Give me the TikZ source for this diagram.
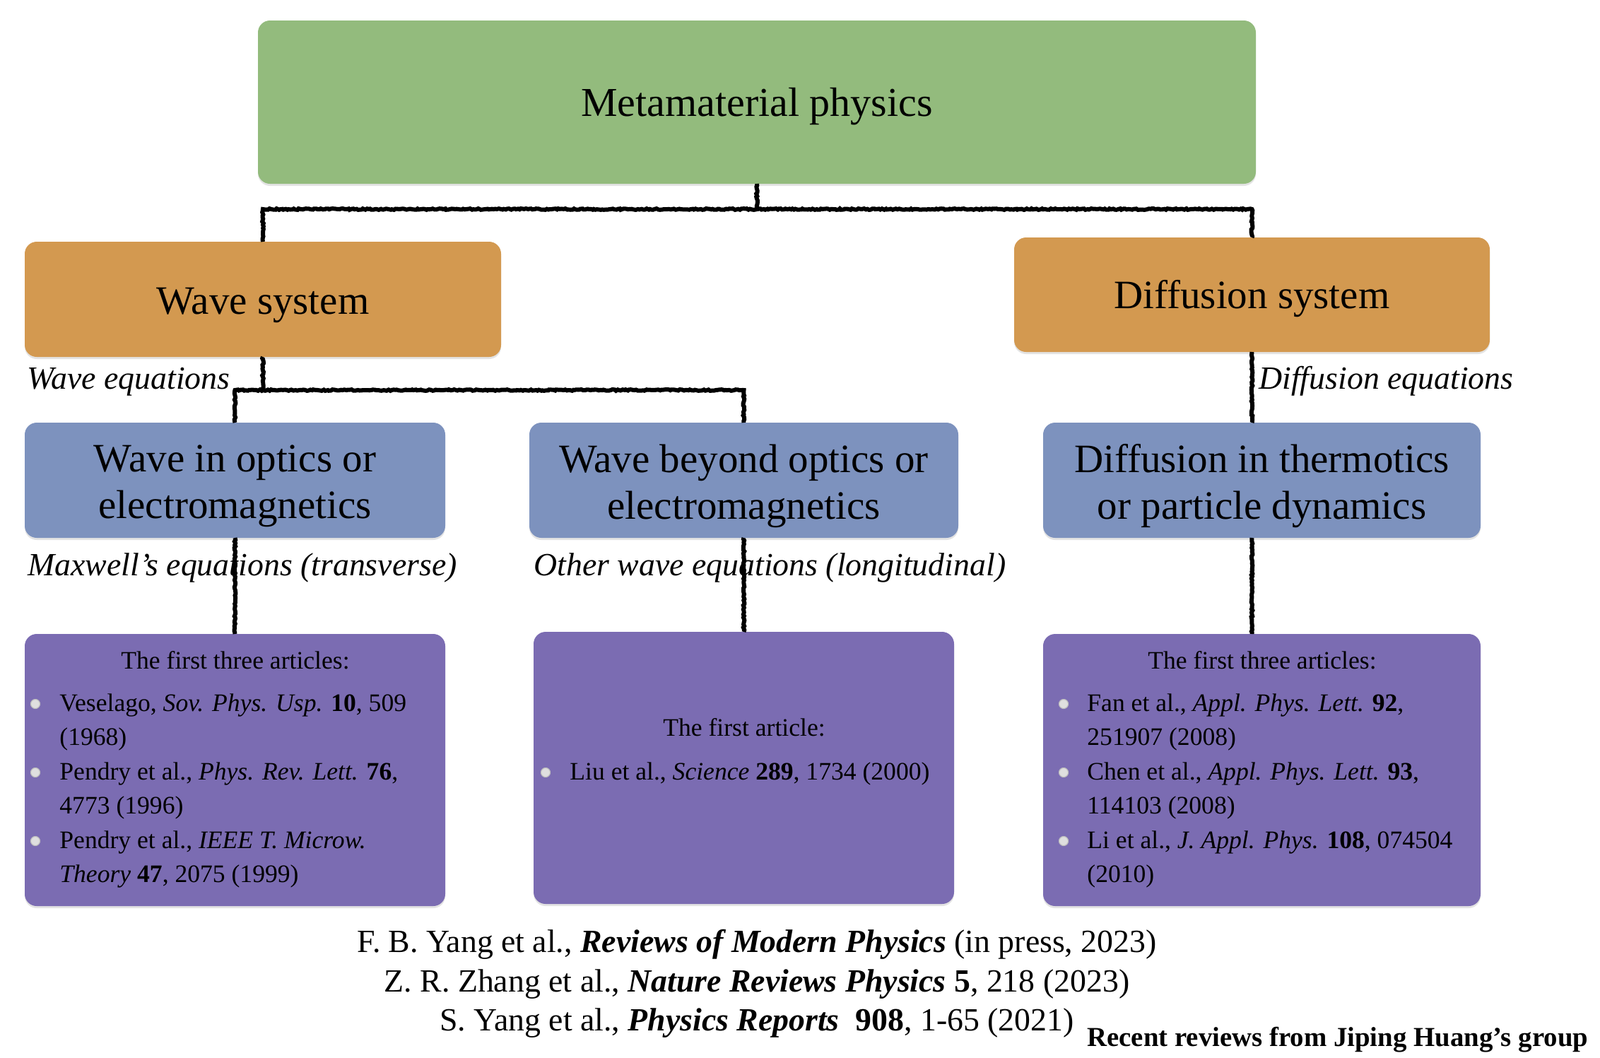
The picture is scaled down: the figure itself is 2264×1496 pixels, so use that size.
\documentclass[tikz,border=0pt]{standalone}
\usepackage{fontspec}
\setmainfont{Liberation Serif}
\usetikzlibrary{shadows,decorations.pathmorphing,calc}
\definecolor{cgreen}{RGB}{147,187,125}
\definecolor{corange}{RGB}{211,153,80}
\definecolor{cblue}{RGB}{125,146,190}
\definecolor{cpurple}{RGB}{123,108,178}
\tikzset{
  box/.style={rounded corners=8.5pt, inner sep=0pt, outer sep=0pt, align=center,
    drop shadow={opacity=0.22, shadow xshift=0pt, shadow yshift=-1.5pt}},
  bigtxt/.style={font=\fontsize{28.5pt}{33pt}\selectfont, align=center, inner sep=0pt},
  eqlabel/.style={font=\fontsize{22.9pt}{27pt}\selectfont\itshape, inner sep=0pt, anchor=base west},
  art/.style={font=\fontsize{17.8pt}{24pt}\selectfont, inner sep=0pt, anchor=base west},
  arthead/.style={font=\fontsize{17.8pt}{24pt}\selectfont, inner sep=0pt, anchor=base},
  reftxt/.style={font=\fontsize{22.9pt}{27pt}\selectfont, inner sep=0pt, anchor=base},
  bul/.style={circle, inner sep=0pt, minimum size=6.5pt, fill=white!75!gray, draw=gray!50, line width=0.6pt},
  conn/.style={draw=black, line width=3pt, decorate,
    decoration={random steps, segment length=1.2pt, amplitude=0.45pt}},
}
\begin{document}
\begin{tikzpicture}[x=0.5pt,y=-0.5pt]
\useasboundingbox (0,0) rectangle (2264,1496);
% level 1
\node[box, fill=cgreen, minimum width=706pt, minimum height=115.5pt] (top) at (1071,144.5) {};
\node[bigtxt, font=\fontsize{29pt}{34pt}\selectfont] (toptxt) at ([yshift=-3pt]top.center) {Metamaterial physics};
% level 2
\node[box, fill=corange, minimum width=337pt, minimum height=81.5pt] (wsys) at (372,423.5) {};
\node[bigtxt] (wsystxt) at ([yshift=-4pt]wsys.center) {Wave system};
\node[box, fill=corange, minimum width=336.5pt, minimum height=81pt] (dsys) at (1771.5,417) {};
\node[bigtxt] (dsystxt) at ([yshift=-3pt]dsys.center) {Diffusion system};
% level 3
\node[box, fill=cblue, minimum width=297.5pt, minimum height=81.5pt] (opt) at (332.5,679.5) {};
\node[bigtxt] (opttxt) at ([yshift=-4pt]opt.center) {Wave in optics or\\electromagnetics};
\node[box, fill=cblue, minimum width=303.5pt, minimum height=81.5pt] (beyond) at (1052.5,679.5) {};
\node[bigtxt] (beyondtxt) at ([yshift=-4pt]beyond.center) {Wave beyond optics or\\electromagnetics};
\node[box, fill=cblue, minimum width=309.5pt, minimum height=81.5pt] (thermo) at (1785.5,679.5) {};
\node[bigtxt] (thermotxt) at ([yshift=-4pt]thermo.center) {Diffusion in thermotics\\or particle dynamics};
% article boxes
\node[box, fill=cpurple, minimum width=297.5pt, minimum height=192.5pt] (art1) at (332.5,1089.5) {};
\node[box, fill=cpurple, minimum width=297.5pt, minimum height=192.5pt] (art2) at (1052.5,1086.5) {};
\node[box, fill=cpurple, minimum width=309.5pt, minimum height=192.5pt] (art3) at (1785.5,1089.5) {};
% connectors
\coordinate (j1) at (1071,296);
\coordinate (j2) at (372,552);
\draw[conn] (top.south) -- (j1) -| (wsys.north);
\draw[conn] (j1) -| (dsys.north);
\draw[conn] (wsys.south) -- (j2) -| (opt.north);
\draw[conn] (j2) -| (beyond.north);
\draw[conn] (dsys.south) -- (dsys.south |- thermo.north);
\draw[conn] (opt.south) -- (art1.north);
\draw[conn] (beyond.south) -- (art2.north);
\draw[conn] (dsys.south |- thermo.south) -- (dsys.south |- art3.north);
% equation labels
\node[eqlabel] (lwave) at (38,550) {Wave equations};
\node[eqlabel] (ldiff) at (1781,550) {Diffusion equations};
\node[eqlabel] (lmax) at (39,814) {Maxwell’s equations (transverse)};
\node[eqlabel] (loth) at (755,814) {Other wave equations (longitudinal)};
% article box 1
\node[arthead] (h1) at (333,946) {The first three articles:};
\node[art] (a11) at (84,1006) {Veselago, \textit{Sov. Phys. Usp.} \textbf{10}, 509};
\node[art] (a12) at (84,1054) {(1968)};
\node[art] (a13) at (84,1103) {Pendry et al., \textit{Phys. Rev. Lett.} \textbf{76},};
\node[art] (a14) at (84,1151) {4773 (1996)};
\node[art] (a15) at (84,1200) {Pendry et al., \textit{IEEE T. Microw.}};
\node[art] (a16) at (84,1248) {\textit{Theory} \textbf{47}, 2075 (1999)};
\node[bul] (b11) at (50,996) {};
\node[bul] (b12) at (50,1093) {};
\node[bul] (b13) at (50,1190) {};
% article box 2
\node[arthead] (h2) at (1053,1041) {The first article:};
\node[art] (a21) at (806,1103) {Liu et al., \textit{Science} \textbf{289}, 1734 (2000)};
\node[bul] (b21) at (772,1093) {};
% article box 3
\node[arthead] (h3) at (1786,946) {The first three articles:};
\node[art] (a31) at (1538,1006) {Fan et al., \textit{Appl. Phys. Lett.} \textbf{92},};
\node[art] (a32) at (1538,1054) {251907 (2008)};
\node[art] (a33) at (1538,1103) {Chen et al., \textit{Appl. Phys. Lett.} \textbf{93},};
\node[art] (a34) at (1538,1151) {114103 (2008)};
\node[art] (a35) at (1538,1200) {Li et al., \textit{J. Appl. Phys.} \textbf{108}, 074504};
\node[art] (a36) at (1538,1248) {(2010)};
\node[bul] (b31) at (1505,996) {};
\node[bul] (b32) at (1505,1093) {};
\node[bul] (b33) at (1505,1190) {};
% references
\node[reftxt] (r1) at (1071,1347) {F. B. Yang et al., \textbf{\textit{Reviews of Modern Physics}} (in press, 2023)};
\node[reftxt] (r2) at (1071,1403) {Z. R. Zhang et al., \textbf{\textit{Nature Reviews Physics}} \textbf{5}, 218 (2023)};
\node[reftxt] (r3) at (1071,1458) {S. Yang et al., \textbf{\textit{Physics Reports}}\ \ \textbf{908}, 1-65 (2021)};
\node[font=\fontsize{19.4pt}{23pt}\selectfont\bfseries, inner sep=0pt, anchor=base west] (rec) at (1538,1480) {Recent reviews from Jiping Huang’s group};
\end{tikzpicture}
\end{document}
